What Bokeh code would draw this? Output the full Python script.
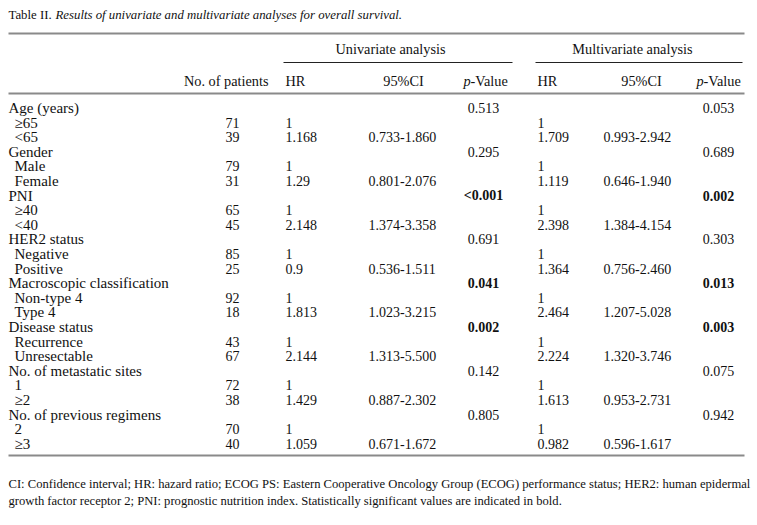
from bokeh.plotting import figure
from bokeh.models import Range1d, ColumnDataSource
from bokeh.core.properties import value
from bokeh.embed import file_html
from bokeh.resources import INLINE

# ---------------- data ----------------
title_prefix = "Table II."
title_text = "Results of univariate and multivariate analyses for overall survival."
groups = ["Age (years)", "Gender", "PNI", "HER2 status", "Macroscopic classification",
          "Disease status", "No. of metastatic sites", "No. of previous regimens"]
levels = [["≥65", "<65"], ["Male", "Female"], ["≥40", "<40"], ["Negative", "Positive"],
          ["Non-type 4", "Type 4"], ["Recurrence", "Unresectable"], ["1", "≥2"], ["2", "≥3"]]
patients = [[71, 39], [79, 31], [65, 45], [85, 25], [92, 18], [43, 67], [72, 38], [70, 40]]
hr_uni = ["1.168", "1.29", "2.148", "0.9", "1.813", "2.144", "1.429", "1.059"]
ci_uni = ["0.733-1.860", "0.801-2.076", "1.374-3.358", "0.536-1.511", "1.023-3.215",
          "1.313-5.500", "0.887-2.302", "0.671-1.672"]
p_uni = ["0.513", "0.295", "<0.001", "0.691", "0.041", "0.002", "0.142", "0.805"]
hr_multi = ["1.709", "1.119", "2.398", "1.364", "2.464", "2.224", "1.613", "0.982"]
ci_multi = ["0.993-2.942", "0.646-1.940", "1.384-4.154", "0.756-2.460", "1.207-5.028",
            "1.320-3.746", "0.953-2.731", "0.596-1.617"]
p_multi = ["0.053", "0.689", "0.002", "0.303", "0.013", "0.003", "0.075", "0.942"]
footnote = ["CI: Confidence interval; HR: hazard ratio; ECOG PS: Eastern Cooperative Oncology Group (ECOG) performance status; HER2: human epidermal",
            "growth factor receptor 2; PNI: prognostic nutrition index. Statistically significant values are indicated in bold."]

# ---------------- layout ----------------
# Bokeh's standalone page template sets body margin to 0, so the canvas
# starts at the window's top-left corner.
W, H = 757, 525
FONT = "Liberation Serif"
FS_LABEL = "15px"
FS_NUM = "14px"
FS_HEAD = "14.3px"
FS_TITLE = "12.8px"
FS_FOOT = "12.6px"
p = figure(width=W, height=H, x_range=Range1d(0, W), y_range=Range1d(H, 0),
           output_backend="svg", toolbar_location=None, min_border=0)
p.axis.visible = False
p.grid.visible = False
p.outline_line_color = None

def txt(x, y, s, align="left", style="normal", size=FS_HEAD, color="#111111"):
    p.text(x=[x], y=[y], text=[s], text_align=align, text_baseline="middle",
           text_font=value(FONT), text_font_size=size, text_font_style=style,
           text_color=color)

# title
txt(8, 14, title_prefix, size=FS_TITLE)
txt(55, 14, title_text, style="italic", size=FS_TITLE)

# rules
p.segment(x0=[8, 8, 8], y0=[33, 93, 455], x1=[744, 744, 744], y1=[33, 93, 455],
          line_color="#8a8a8a", line_width=2.2)
p.segment(x0=[283, 535], y0=[62, 62], x1=[512, 742], y1=[62, 62],
          line_color="#222222", line_width=1.2)

# headers
txt(390, 48, "Univariate analysis", align="center")
txt(632, 48, "Multivariate analysis", align="center")
txt(268, 80, "No. of patients", align="right")
txt(285, 80, "HR")
txt(403, 80, "95%CI", align="center")
txt(463, 80, "p", style="italic")
txt(470, 80, "-Value")
txt(537, 80, "HR")
txt(641, 80, "95%CI", align="center")
txt(696, 80, "p", style="italic")
txt(703, 80, "-Value")

# body
y0, dy = 107.5, 14.6
xs = dict(group=8, level=14, n=225, hr_u=285, ci_u=368, p_u=483, hr_m=537, ci_m=603, p_m=718)
lab = {"x": [], "y": [], "t": []}
num = {"x": [], "y": [], "t": [], "a": [], "s": []}
def add_lab(x, y, t):
    lab["x"].append(x); lab["y"].append(y); lab["t"].append(t)
def add(x, y, t, a="left", s="normal"):
    num["x"].append(x); num["y"].append(y); num["t"].append(t)
    num["a"].append(a); num["s"].append(s)

for i, g in enumerate(groups):
    yg = y0 + dy * 3 * i
    add_lab(xs["group"], yg, g)
    sig_u = p_uni[i].startswith("<") or float(p_uni[i]) < 0.05
    sig_m = p_multi[i].startswith("<") or float(p_multi[i]) < 0.05
    add(xs["p_u"], yg, p_uni[i], "center", "bold" if sig_u else "normal")
    add(xs["p_m"], yg, p_multi[i], "center", "bold" if sig_m else "normal")
    for j in range(2):
        yl = yg + dy * (j + 1)
        add_lab(xs["level"], yl, levels[i][j])
        add(xs["n"], yl, str(patients[i][j]))
    add(xs["hr_u"], yg + dy, "1")
    add(xs["hr_m"], yg + dy, "1")
    add(xs["hr_u"], yg + 2 * dy, hr_uni[i])
    add(xs["ci_u"], yg + 2 * dy, ci_uni[i])
    add(xs["hr_m"], yg + 2 * dy, hr_multi[i])
    add(xs["ci_m"], yg + 2 * dy, ci_multi[i])

p.text(x="x", y="y", text="t", source=ColumnDataSource(lab),
       text_baseline="middle", text_font=value(FONT), text_font_size=FS_LABEL,
       text_color="#111111")
p.text(x="x", y="y", text="t", text_align="a", text_font_style="s",
       source=ColumnDataSource(num),
       text_baseline="middle", text_font=value(FONT), text_font_size=FS_NUM,
       text_color="#111111")

# footnote
txt(8, 483, footnote[0], size=FS_FOOT)
txt(8, 500, footnote[1], size=FS_FOOT)

open("out.html", "w").write(file_html(p, INLINE))
